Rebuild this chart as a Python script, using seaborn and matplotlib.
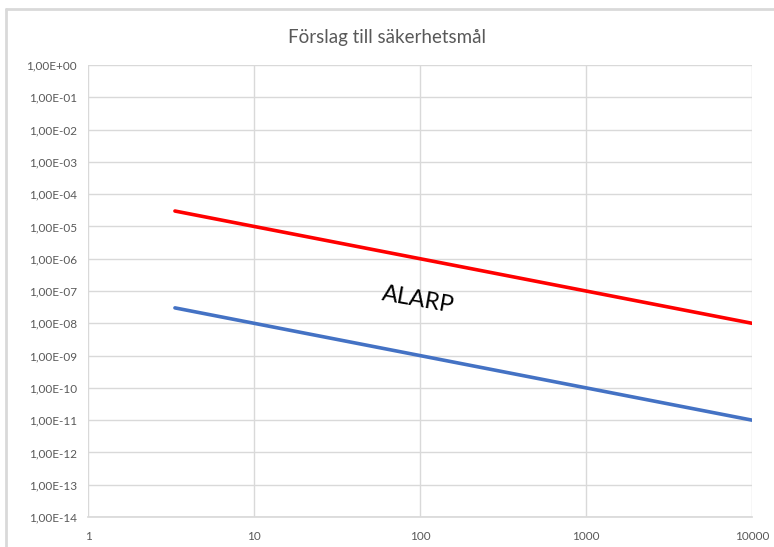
import matplotlib
matplotlib.use("Agg")
import numpy as np
import pandas as pd
import matplotlib.pyplot as plt
import seaborn as sns
from matplotlib.lines import Line2D
from matplotlib.ticker import FixedLocator, NullLocator

# Values (log-log, both lines slope -1)
x_vals = [3.34, 10, 100, 1000, 10000]
upper_limit = [3.0e-5, 1.0e-5, 1.0e-6, 1.0e-7, 1.0e-8]
lower_limit = [3.0e-8, 1.0e-8, 1.0e-9, 1.0e-10, 1.0e-11]

x_ticks = [1, 10, 100, 1000, 10000]
x_labels = ["1", "10", "100", "1000", "10000"]
y_exps = list(range(0, -15, -1))
y_labels = ["1,00E+00" if e == 0 else "1,00E-%02d" % (-e) for e in y_exps]

df = pd.DataFrame({
    "x": x_vals * 2,
    "y": upper_limit + lower_limit,
    "serie": ["Övre"] * len(x_vals) + ["Undre"] * len(x_vals),
})

sns.set_theme(style="white")
plt.rcParams["font.family"] = ["Lato", "DejaVu Sans"]

fig = plt.figure(figsize=(7.74, 5.47), dpi=100)
ax = fig.add_axes([88 / 774, 30 / 547, (752 - 88) / 774, (517 - 65) / 547])

sns.lineplot(data=df, x="x", y="y", hue="serie",
             palette={"Övre": "#ff0000", "Undre": "#4472c4"},
             linewidth=2.6, legend=False, ax=ax)

ax.set_xscale("log")
ax.set_yscale("log")
ax.set_xlim(1, 10000)
ax.set_ylim(1e-14, 1)
ax.xaxis.set_major_locator(FixedLocator(x_ticks))
ax.xaxis.set_minor_locator(NullLocator())
ax.set_xticklabels(x_labels)
ax.yaxis.set_major_locator(FixedLocator([10.0 ** e for e in y_exps]))
ax.yaxis.set_minor_locator(NullLocator())
ax.set_yticklabels(y_labels)
ax.set_xlabel("")
ax.set_ylabel("")

ax.grid(True, color="#d9d9d9", linewidth=1.0)
ax.set_axisbelow(True)
for s in ["top", "right", "left"]:
    ax.spines[s].set_visible(False)
ax.spines["bottom"].set_color("#d9d9d9")
ax.tick_params(axis="both", length=0, colors="#595959", labelsize=8.5)
ax.tick_params(axis="x", pad=10)
ax.tick_params(axis="y", pad=8)

ax.text(97, 5.3e-8, "ALARP", fontsize=17, rotation=-10, color="black",
        ha="center", va="center")

fig.text(0.5, 1 - 38 / 547, "Förslag till säkerhetsmål", ha="center",
         va="center", fontsize=13.5, color="#595959")

# Chart frame edges (top and left) as in the screenshot
fig.add_artist(Line2D([6 / 774, 1], [1 - 9 / 547, 1 - 9 / 547],
                      transform=fig.transFigure, color="#d9d9d9", linewidth=2))
fig.add_artist(Line2D([6 / 774, 6 / 774], [0, 1 - 9 / 547],
                      transform=fig.transFigure, color="#d9d9d9", linewidth=2))

fig.savefig("out.png", dpi=100)
